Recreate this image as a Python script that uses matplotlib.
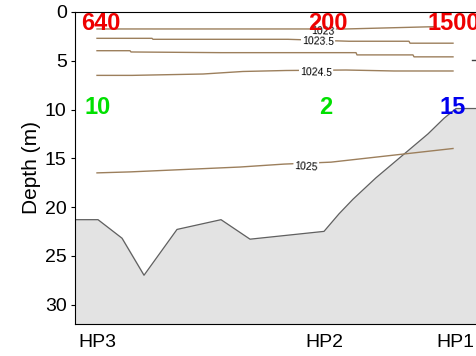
import numpy as np
import matplotlib.pyplot as plt

plt.rcParams['font.family'] = ['Liberation Sans', 'DejaVu Sans']

# bathymetry along the transect (distance in km, depth in m)
bed_x = [0, 2.3, 4.7, 6.9, 10.2, 14.6, 17.5, 24.9, 26.4, 27.8, 30.1, 35.3, 36.9, 38.1, 42.5]
bed_z = [21.3, 21.3, 23.2, 27.0, 22.3, 21.3, 23.3, 22.5, 20.7, 19.2, 17.0, 12.5, 10.9, 9.9, 9.9]

# density contours (kg/m3) as (x, depth) traces
iso_1023_x = [2.2, 22.8, 27.1, 36.1]
iso_1023_z = [1.74, 1.74, 1.74, 1.5]
iso_1023_5_x = [2.2, 7.7, 7.8, 21.3, 27.4, 33.4, 33.5, 37.8]
iso_1023_5_z = [2.7, 2.7, 2.8, 2.8, 3.0, 3.0, 3.2, 3.2]
iso_1024_x = [2.2, 5.5, 5.6, 14.6, 28.1, 28.2, 33.8, 33.9, 37.8]
iso_1024_z = [3.97, 3.97, 4.1, 4.17, 4.17, 4.4, 4.4, 4.6, 4.6]
iso_1024_5_x = [2.2, 5.7, 12.8, 16.8, 21.1, 27.1, 31.9, 37.8]
iso_1024_5_z = [6.5, 6.5, 6.36, 6.1, 6.0, 5.95, 6.05, 6.05]
iso_1025_x = [2.2, 5.5, 16.5, 20.9, 25.6, 37.8]
iso_1025_z = [16.5, 16.4, 15.9, 15.6, 15.4, 14.0]

# station labels
stations = ['HP3', 'HP2', 'HP1']
station_x = [2.2, 24.9, 38.0]
top_vals = ['640', '200', '1500']
top_x = [2.6, 25.3, 37.9]
mid_vals = ['10', '2', '15']
mid_x = [2.3, 25.1, 37.8]
mid_cols = ['#00e000', '#00e000', '#0000ee']

fig = plt.figure(figsize=(4.76, 3.56), dpi=100)
ax = fig.add_axes([75 / 476, 32 / 356, 425 / 476, 312 / 356])

ax.fill_between(bed_x, bed_z, 32, color='#e3e3e3', zorder=1)
ax.plot(bed_x, bed_z, color='#606060', lw=0.9, zorder=2)

lc = '#9c7f5c'
for xs, zs in [(iso_1023_x, iso_1023_z), (iso_1023_5_x, iso_1023_5_z),
               (iso_1024_x, iso_1024_z), (iso_1024_5_x, iso_1024_5_z),
               (iso_1025_x, iso_1025_z)]:
    ax.plot(xs, zs, color=lc, lw=1.0, zorder=3)
ax.plot([39.7, 40.2], [4.9, 4.9], color='#404040', lw=1.0, zorder=3)

# contour labels with white background to break the lines
for txt, x, z in [('1023', 24.8, 2.0), ('1023.5', 24.3, 3.05),
                  ('1024.5', 24.1, 6.2), ('1025', 23.1, 15.9)]:
    ax.text(x, z, txt, fontsize=7.5, ha='center', va='center', zorder=4,
            rotation=-4 if txt == '1025' else -2,
            bbox=dict(fc='white', ec='none', pad=0.8))

for t, x in zip(top_vals, top_x):
    ax.text(x, 0.05, t, color='#ee0000', fontsize=17, fontweight='bold',
            ha='center', va='top', zorder=5)
for t, x, c in zip(mid_vals, mid_x, mid_cols):
    ax.text(x, 9.8, t, color=c, fontsize=17, fontweight='bold',
            ha='center', va='center', zorder=5)

ax.set_xlim(0, 42.5)
ax.set_ylim(32, 0)
ax.set_yticks([0, 5, 10, 15, 20, 25, 30])
ax.set_xticks(station_x)
ax.set_xticklabels(stations)
ax.tick_params(axis='x', length=0, pad=7, labelsize=14)
ax.tick_params(axis='y', length=3, pad=3, labelsize=14)
ax.set_ylabel('Depth (m)', fontsize=15, labelpad=3)

fig.savefig('out.png', dpi=100)
